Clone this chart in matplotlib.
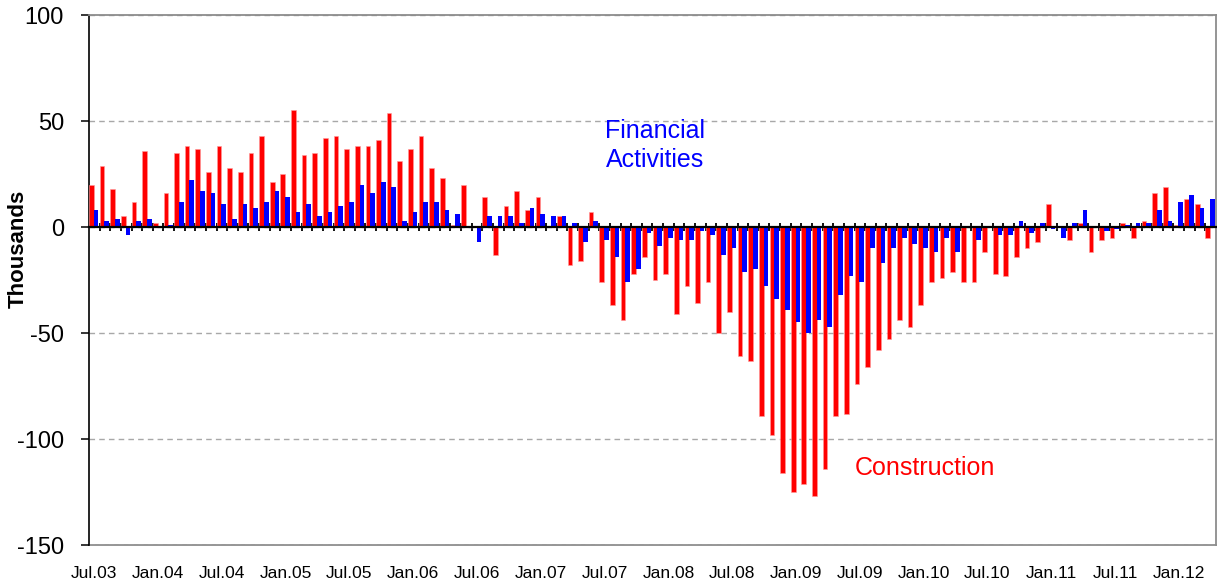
import matplotlib
matplotlib.use("Agg")
import matplotlib.pyplot as plt
import numpy as np

plt.rcParams['font.family'] = ['Liberation Sans', 'DejaVu Sans']
plt.rcParams['axes.unicode_minus'] = False

# Monthly change, thousands (Jul.03 .. Apr.12)
construction = [20, 29, 18, 5, 12, 36, 2, 16, 35, 38, 37, 26, 38, 28, 26, 35, 43, 21,
                25, 55, 34, 35, 42, 43, 37, 38, 38, 41, 54, 31, 37, 43, 28, 23, 1, 20,
                0, 14, -13, 10, 17, 8, 14, 0, 5, -18, -16, 7, -26, -37, -44, -22, -14, -25,
                -22, -41, -28, -36, -26, -50, -40, -61, -63, -89, -98, -116, -125, -121,
                -127, -114, -89, -88, -74, -66, -58, -53, -44, -47, -37, -26, -24, -21,
                -26, -26, -12, -22, -23, -14, -10, -7, 11, 0, -6, 2, -12, -6, -5, 2,
                -5, 3, 16, 19, 1, 13, 11, -5]
financial = [8, 3, 4, -4, 3, 4, 0, 1, 12, 22, 17, 16, 11, 4, 11, 9, 12, 17,
             14, 7, 11, 5, 7, 10, 12, 20, 16, 21, 19, 3, 7, 12, 12, 8, 6, 0,
             -7, 5, 5, 5, 2, 9, 6, 5, 5, 2, -7, 3, -6, -14, -26, -20, -3, -9,
             -5, -6, -6, -2, -4, -13, -10, -21, -20, -28, -34, -39, -45, -50,
             -44, -47, -32, -23, -26, -10, -17, -10, -5, -8, -10, -12, -5, -12,
             0, -6, 0, -4, -4, 3, -3, 2, -1, -5, 2, 8, 0, -2, -1, 1,
             2, 2, 8, 3, 12, 15, 9, 13]
tick_labels = ["Jul.03", "Jan.04", "Jul.04", "Jan.05", "Jul.05", "Jan.06", "Jul.06",
               "Jan.07", "Jul.07", "Jan.08", "Jul.08", "Jan.09", "Jul.09", "Jan.10",
               "Jul.10", "Jan.11", "Jul.11", "Jan.12"]

n = len(construction)
x = np.arange(n)

fig = plt.figure(figsize=(12.17, 5.84), dpi=100)
ax = fig.add_axes([89/1217, 1 - 545/584, (1216 - 89)/1217, (545 - 15)/584])

ax.bar(x + 0.01, construction, width=0.44, align='edge', color='#FF0000',
       edgecolor='#FF9A9A', linewidth=0.4, zorder=3)
ax.bar(x + 0.45, financial, width=0.44, align='edge', color='#0000FF',
       linewidth=0, zorder=3)

ax.set_xlim(0, n)
ax.set_ylim(-150, 100)
ax.set_yticks([-150, -100, -50, 0, 50, 100])
ax.tick_params(axis='y', direction='out', length=6, width=1.1, pad=12,
               labelsize=17, color='black')
ax.set_axisbelow(True)
ax.yaxis.grid(True, linestyle=(0, (4, 3)), color='#A8A8A8', linewidth=1.0)

# category axis crossing at zero
ax.spines['bottom'].set_position(('data', 0))
ax.spines['bottom'].set_color('black')
ax.spines['bottom'].set_linewidth(1.6)
ax.spines['bottom'].set_zorder(4)
ax.set_xticks(np.arange(1, n))
ax.tick_params(axis='x', direction='inout', length=6, width=1.3, color='black',
               labelbottom=False)

ax.spines['left'].set_color('black')
ax.spines['left'].set_linewidth(1.2)
for s in ('top', 'right'):
    ax.spines[s].set_color('#8C8C8C')
    ax.spines[s].set_linewidth(1.3)

sec = ax.secondary_xaxis('bottom')
sec.set_xticks(np.arange(0, n, 6)[:len(tick_labels)] + 0.5, labels=tick_labels)
sec.tick_params(axis='x', length=0, pad=15, labelsize=12.5)
sec.spines['bottom'].set_color('#8C8C8C')
sec.spines['bottom'].set_linewidth(1.3)

fig.text(18/1217, 1 - 249/584, 'Thousands', rotation=90, ha='center', va='center',
         fontsize=16, fontweight='bold')

ax.text(53.2, 38.3, 'Financial\nActivities', ha='center', va='center',
        color='#0000FF', fontsize=18, linespacing=1.25)
ax.text(78.6, -113.5, 'Construction', ha='center', va='center',
        color='#FF0000', fontsize=18)

fig.savefig('out.png', dpi=100)
